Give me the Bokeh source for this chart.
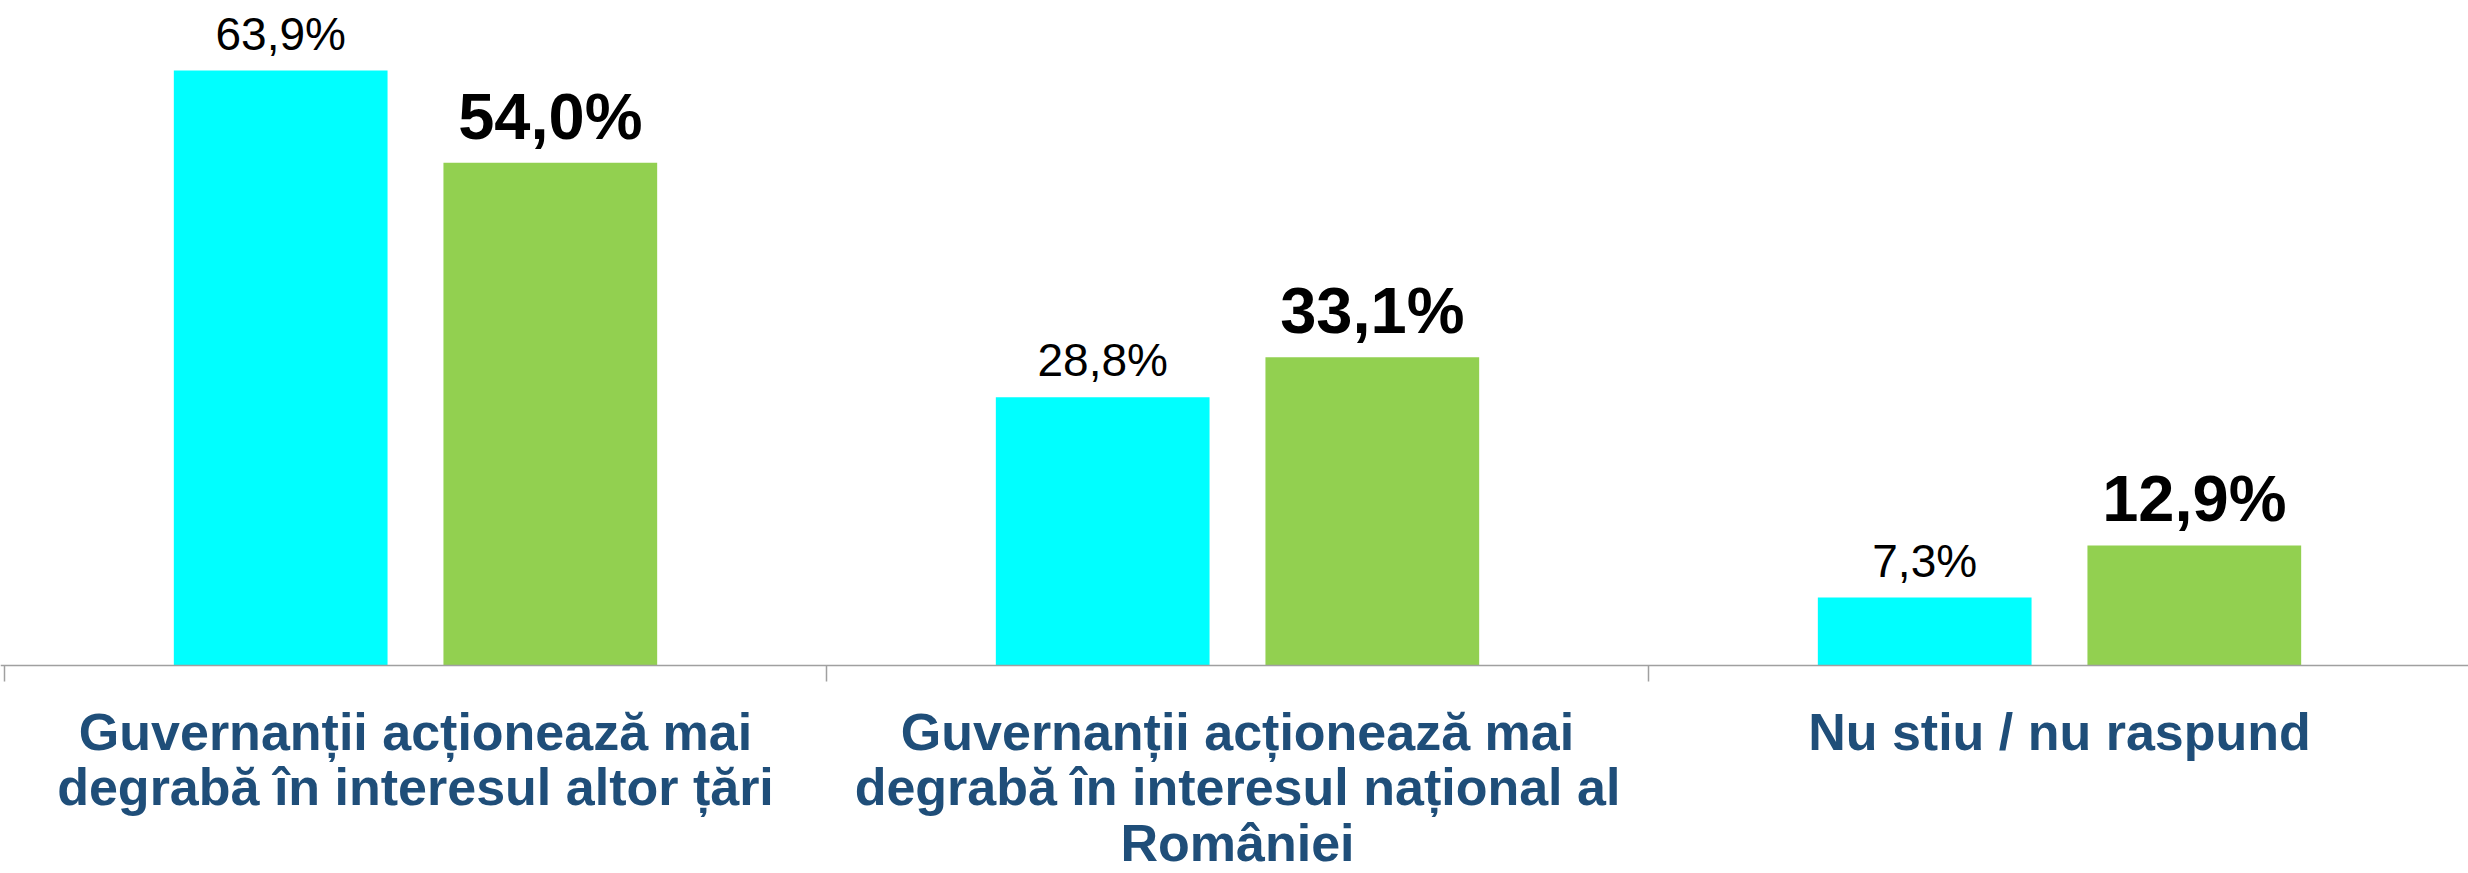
from bokeh.plotting import figure
from bokeh.models import ColumnDataSource, FixedTicker, Range1d, LabelSet
from bokeh.transform import dodge
from bokeh.core.properties import value
from bokeh.embed import file_html
from bokeh.resources import INLINE

# ---- data ----
categories = [
    "Guvernanții acționează mai\ndegrabă în interesul altor țări",
    "Guvernanții acționează mai\ndegrabă în interesul național al\nRomâniei",
    "Nu stiu / nu raspund",
]
cat_index = [0, 1, 2]
series_a = [63.9, 28.8, 7.3]     # cyan
series_b = [54.0, 33.1, 12.9]    # green
labels_a = [f"{v:.1f}".replace(".", ",") + "%" for v in series_a]
labels_b = [f"{v:.1f}".replace(".", ",") + "%" for v in series_b]

W, H = 2468, 873
BASE_Y = 665               # px from top of figure to the baseline
PX_PER_UNIT = 9.31
CAT_W = 822.0
LEFT_PAD = 4.0

src = ColumnDataSource(dict(idx=cat_index, a=series_a, b=series_b, la=labels_a, lb=labels_b))

p = figure(width=W, height=H, output_backend="svg", toolbar_location=None,
           x_range=Range1d(-LEFT_PAD / CAT_W, (W - LEFT_PAD) / CAT_W),
           y_range=Range1d(-(H - BASE_Y) / PX_PER_UNIT, BASE_Y / PX_PER_UNIT),
           min_border_left=0, min_border_right=0, min_border_top=0, min_border_bottom=0,
           outline_line_color=None, background_fill_color="white", border_fill_color="white")

xa = dodge("idx", 0.5 - 0.164, range=p.x_range)
xb = dodge("idx", 0.5 + 0.164, range=p.x_range)

p.vbar(x=xa, top="a", bottom=0, width=0.26, source=src, fill_color="#00FFFF", line_color=None)
p.vbar(x=xb, top="b", bottom=0, width=0.26, source=src, fill_color="#92D050", line_color=None)

FONT = value("Liberation Sans")
p.add_layout(LabelSet(x=xa, y="a", text="la", source=src, y_offset=21,
                      text_align="center", text_baseline="alphabetic",
                      text_font=FONT, text_font_size=value("46px"), text_color="black"))
p.add_layout(LabelSet(x=xb, y="b", text="lb", source=src, y_offset=24,
                      text_align="center", text_baseline="alphabetic",
                      text_font=FONT, text_font_size=value("65px"),
                      text_font_style="bold", text_color="black"))

p.yaxis.visible = False
p.xgrid.visible = False
p.ygrid.visible = False

ax = p.xaxis[0]
ax.fixed_location = 0
ax.ticker = FixedTicker(ticks=[i + 0.5 for i in cat_index], minor_ticks=[0, 1, 2, 3])
ax.major_label_overrides = {i + 0.5: categories[i] for i in cat_index}
ax.axis_line_color = "#A0A0A0"
ax.axis_line_width = 1.5
ax.major_tick_line_color = None
ax.major_tick_in = 0
ax.major_tick_out = 0
ax.minor_tick_line_color = "#A0A0A0"
ax.minor_tick_line_width = 1.5
ax.minor_tick_in = 0
ax.minor_tick_out = 16
ax.major_label_standoff = 21
ax.major_label_text_font = "Liberation Sans"
ax.major_label_text_font_size = "52px"
ax.major_label_text_font_style = "bold"
ax.major_label_text_color = "#1F4E79"
ax.major_label_text_line_height = 0.965

open("out.html", "w").write(file_html(p, INLINE))
